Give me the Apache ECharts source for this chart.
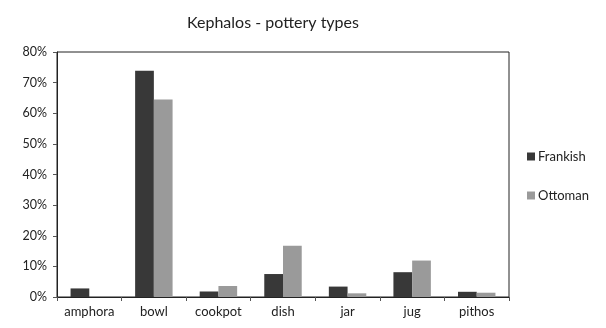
<!DOCTYPE html>
<html><head><meta charset="utf-8">
<script src="https://cdn.jsdelivr.net/npm/echarts@6/dist/echarts.min.js"></script>
<style>html,body{margin:0;padding:0;background:#fff}#c{width:606px;height:328px}</style>
</head><body><div id="c"></div>
<script>
const categories = ['amphora','bowl','cookpot','dish','jar','jug','pithos'];
const frankish = [2.8, 73.9, 1.8, 7.5, 3.4, 8.1, 1.7];
const ottoman = [0, 64.5, 3.6, 16.7, 1.2, 11.9, 1.4];
const yTicks = [0,10,20,30,40,50,60,70,80];
const FONT = 'Lato';
const chart = echarts.init(document.getElementById('c'));
chart.setOption({
  animation: false,
  backgroundColor: '#fff',
  title: { text: 'Kephalos - pottery types', left: 268, top: 10, textAlign: 'center',
    textStyle: { fontFamily: FONT, fontSize: 16, fontWeight: 'normal', color: '#222' } },
  legend: { orient: 'vertical', left: 522, top: 145, itemGap: 26, itemWidth: 8, itemHeight: 8,
    icon: 'rect', textStyle: { fontFamily: FONT, fontSize: 13, color: '#222', padding: [0,0,0,-2] },
    data: ['Frankish','Ottoman'] },
  grid: { left: 57, right: 97, top: 52, bottom: 31, show: true, borderColor: '#222', borderWidth: 1 },
  xAxis: { type: 'category', data: categories,
    axisLine: { lineStyle: { color: '#222' } },
    axisTick: { show: true, length: 4, lineStyle: { color: '#555' } },
    axisLabel: { interval: 0, fontFamily: FONT, fontSize: 13, color: '#222', margin: 8 } },
  yAxis: { type: 'value', min: 0, max: 80, interval: 10,
    axisLine: { show: true, lineStyle: { color: '#222' } },
    axisTick: { show: true, length: 4, lineStyle: { color: '#555' } },
    splitLine: { show: false },
    axisLabel: { fontFamily: FONT, fontSize: 12.5, color: '#222', margin: 10,
      formatter: v => yTicks.includes(v) ? v + '%' : '' } },
  series: [
    { name: 'Frankish', type: 'bar', data: frankish, barGap: '0%', barCategoryGap: '42%',
      itemStyle: { color: '#383838' } },
    { name: 'Ottoman', type: 'bar', data: ottoman, itemStyle: { color: '#9a9a9a' } }
  ]
});
</script></body></html>
